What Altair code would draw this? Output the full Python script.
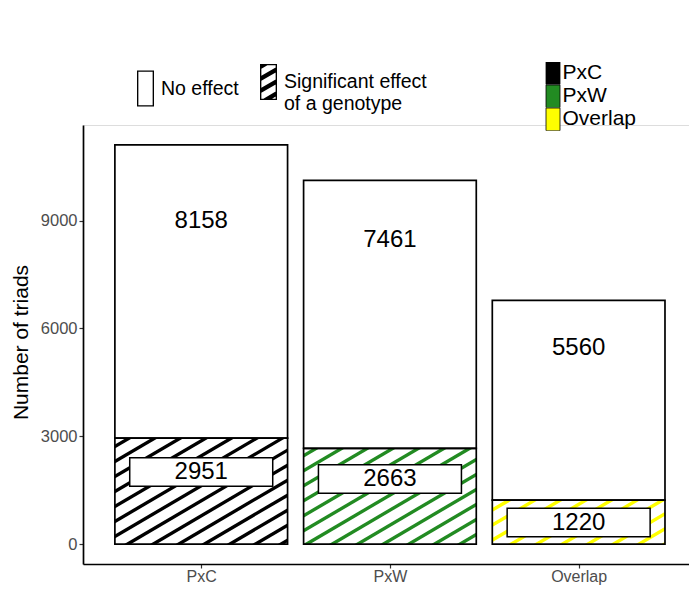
import json
import numpy as np
import pandas as pd
import altair as alt

# ---------------- data ----------------
crosses = ["PxC", "PxW", "Overlap"]
no_effect = [8158, 7461, 5560]
significant = [2951, 2663, 1220]
cross_colors = ["#000000", "#228B22", "#FFFF00"]
effects = ["No effect", "Significant effect of a genotype"]
no_effect_label_y = [8990, 8460, 5455]
sig_label_y = [2004, 1809, 598]
y_ticks = [0, 3000, 6000, 9000]

# ---------------- layout / style ----------------
FONT = "Liberation Sans"
PX_PER_CAT = 191.875          # horizontal pixels per category step
W, H = 606, 439
X_DOMAIN = [0.4, 0.4 + W / PX_PER_CAT]
total_max = max(n + s for n, s in zip(no_effect, significant))
Y_DOMAIN = [-0.05 * total_max, 1.05 * total_max]
BAR_W = 0.9
sx = PX_PER_CAT
sy = H / (Y_DOMAIN[1] - Y_DOMAIN[0])
BAR_PX = BAR_W * sx
LINE_W = 1.7

xpos = [i + 1 for i in range(len(crosses))]

rows = []
for i, c in enumerate(crosses):
    rows.append(dict(cross=c, xpos=xpos[i], effect=effects[1], y0=0, y1=significant[i]))
    rows.append(dict(cross=c, xpos=xpos[i], effect=effects[0], y0=significant[i],
                     y1=significant[i] + no_effect[i]))
bars = pd.DataFrame(rows)
sig_bars = bars[bars.effect == effects[1]]

labels = pd.DataFrame(dict(cross=crosses, xpos=xpos, sig=significant, no=no_effect,
                           sig_y=sig_label_y, no_y=no_effect_label_y))

# white gaps of the hatching (drawn over the coloured significant bars)
ANG = np.deg2rad(30)
t = np.tan(ANG)
PERIOD = 13.0
STRIPE = 3.4
dv = PERIOD / np.cos(ANG)
MARGIN = 6.0
hrows = []
for i, c in enumerate(crosses):
    X0 = (xpos[i] - BAR_W / 2) * sx - MARGIN
    X1 = (xpos[i] + BAR_W / 2) * sx + MARGIN
    Y0 = -MARGIN
    Y1 = significant[i] * sy + MARGIN
    kmin, kmax = Y0 - t * X1, Y1 - t * X0
    k = np.floor(kmin / dv) * dv
    while k <= kmax:
        xa = max(X0, (Y0 - k) / t)
        xb = min(X1, (Y1 - k) / t)
        if xb > xa:
            hrows.append(dict(cross=c, x=xa / sx, y=(t * xa + k) / sy,
                              x2=xb / sx, y2=(t * xb + k) / sy))
        k += dv
hatch = pd.DataFrame(hrows)

# ---------------- legend symbol paths ----------------
def poly_path(pts):
    return "M" + "L".join(f"{x:.3f},{y:.3f}" for x, y in pts) + "Z"

def clip_half(poly, a, b, c):
    out = []
    n = len(poly)
    for j in range(n):
        P, Q = poly[j], poly[(j + 1) % n]
        fp = a * P[0] + b * P[1] + c
        fq = a * Q[0] + b * Q[1] + c
        if fp >= 0:
            out.append(P)
        if (fp >= 0) != (fq >= 0):
            r = fp / (fp - fq)
            out.append((P[0] + r * (Q[0] - P[0]), P[1] + r * (Q[1] - P[1])))
    return out

ox0, ox1, oy0, oy1 = 0.056, 1.0, -1.0, 1.0
fr = 0.075
ix0, ix1, iy0, iy1 = ox0 + fr, ox1 - fr, oy0 + fr, oy1 - fr
outer = [(ox0, oy0), (ox1, oy0), (ox1, oy1), (ox0, oy1)]
inner = [(ix0, iy0), (ix0, iy1), (ix1, iy1), (ix1, iy0)]
frame = poly_path(outer) + poly_path(inner)
stripes = ""
vper, vth = 12 / 18, 5 / 18
cc = -1.6
while cc < 1.8:
    inner_cw = [(ix0, iy0), (ix1, iy0), (ix1, iy1), (ix0, iy1)]
    p = clip_half(inner_cw, t, 1, -cc)
    p = clip_half(p, -t, -1, cc + vth) if p else p
    if len(p) >= 3:
        stripes += poly_path(p)
    cc += vper
shape_paths = [frame, frame + stripes]

# colour key: 14 x 22.7 px swatch drawn on a nominal 20 px symbol
KEY_H = 22.7
swatch_path = f"M-0.4,{-KEY_H / 20:.3f}L1,{-KEY_H / 20:.3f}L1,{KEY_H / 20:.3f}L-0.4,{KEY_H / 20:.3f}Z"

box_half_h = 14.25 / 71.5
box_path = f"M-1,{-box_half_h:.4f}L1,{-box_half_h:.4f}L1,{box_half_h:.4f}L-1,{box_half_h:.4f}Z"

# ---------------- encodings ----------------
x_scale = alt.Scale(domain=X_DOMAIN, nice=False, zero=False)
y_scale = alt.Scale(domain=Y_DOMAIN, nice=False, zero=False)
x_axis = alt.Axis(values=xpos, labelExpr=f"{json.dumps(crosses)}[datum.value - 1]",
                  title="Cross", grid=False, domainColor="black", domainWidth=LINE_W,
                  tickColor="#333333", tickSize=4, tickWidth=1.2, labelColor="#4D4D4D",
                  labelFontSize=16, labelFont=FONT, labelPadding=0, titleFont=FONT,
                  titleFontSize=21, titleFontWeight="normal", titleColor="black",
                  titlePadding=7)
y_axis = alt.Axis(values=y_ticks, format="d", title="Number of triads", grid=False,
                  domainColor="black", domainWidth=LINE_W, tickColor="#333333",
                  tickSize=4, tickWidth=1.2, labelColor="#4D4D4D", labelFontSize=16.5,
                  labelFont=FONT, labelPadding=2, titleFont=FONT, titleFontSize=21,
                  titleFontWeight="normal", titleColor="black", titleAngle=270,
                  titleX=-62, titleY=217, titleAlign="center", titleBaseline="middle")

def X(f="xpos"):
    return alt.X(f"{f}:Q", scale=x_scale, axis=x_axis)

def Y(f):
    return alt.Y(f"{f}:Q", scale=y_scale, axis=y_axis)

fill_legend = alt.Legend(title=None, orient="none", legendX=456.5, legendY=-63,
                         symbolType=swatch_path, symbolSize=400, clipHeight=KEY_H,
                         symbolStrokeColor="black", symbolStrokeWidth=0.8, symbolOpacity=1,
                         labelFontSize=21, labelFont=FONT, labelColor="black",
                         labelOffset=2, rowPadding=0, padding=0, labelLimit=300)

shape_legend = alt.Legend(title=None, orient="none", legendX=35, legendY=-61,
                          direction="horizontal", symbolSize=1296, symbolFillColor="black",
                          symbolStrokeWidth=0, symbolOpacity=1, labelFontSize=19.5,
                          labelFont=FONT, labelColor="black", labelOffset=7,
                          columnPadding=2, padding=0, labelLimit=400,
                          labelExpr="datum.label == 'Significant effect of a genotype' ? "
                                    "['Significant effect', 'of a genotype'] : datum.label")

# ---------------- layers ----------------
coloured = alt.Chart(sig_bars).mark_bar(size=BAR_PX, opacity=1).encode(
    x=X(), y=Y("y0"), y2="y1",
    fill=alt.Fill("cross:N", scale=alt.Scale(domain=crosses, range=cross_colors),
                  legend=fill_legend),
)

gaps = alt.Chart(hatch).mark_rule(color="white", strokeWidth=PERIOD - STRIPE,
                                  strokeCap="butt", opacity=1).encode(
    x=X("x"), y=Y("y"), x2="x2", y2="y2",
)

outlines = alt.Chart(bars).mark_bar(size=BAR_PX, fillOpacity=0, stroke="black",
                                    strokeWidth=LINE_W, opacity=1).encode(
    x=X(), y=Y("y0"), y2="y1",
)

legend_pts = alt.Chart(bars).mark_point(filled=True, size=0, color="black",
                                        opacity=1).encode(
    x=X(), y=Y("y0"),
    shape=alt.Shape("effect:N", scale=alt.Scale(domain=effects, range=shape_paths),
                    legend=shape_legend),
)

boxes = alt.Chart(labels).mark_point(shape=box_path, size=143 ** 2, filled=True,
                                     fill="white", stroke="black", strokeWidth=1.5,
                                     opacity=1).encode(
    x=X(), y=Y("sig_y"),
)

box_text = alt.Chart(labels).mark_text(font=FONT, fontSize=24, color="black",
                                       baseline="middle").encode(
    x=X(), y=Y("sig_y"), text="sig:Q",
)

top_text = alt.Chart(labels).mark_text(font=FONT, fontSize=24, color="black",
                                       baseline="middle").encode(
    x=X(), y=Y("no_y"), text="no:Q",
)

chart = alt.layer(coloured, gaps, outlines, legend_pts, boxes, box_text, top_text).properties(
    width=W, height=H,
    autosize=alt.AutoSizeParams(type="none"),
    padding={"left": 75, "top": 117, "right": 0, "bottom": 22},
).configure_view(strokeWidth=0).configure(font=FONT)

chart.save("out.html", embed_options={"renderer": "svg", "actions": False})
